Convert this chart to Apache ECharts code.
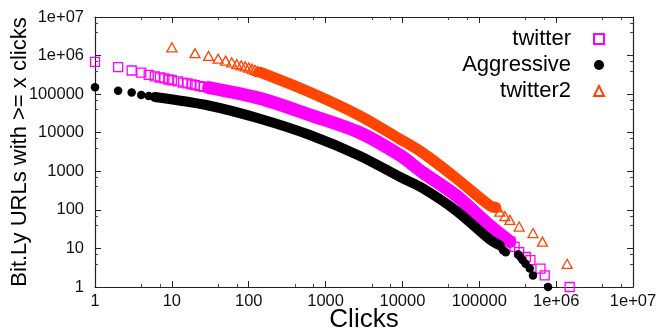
<!DOCTYPE html>
<html>
<head>
<meta charset="utf-8">
<script src="https://cdn.jsdelivr.net/npm/echarts@6/dist/echarts.min.js"></script>
<style>
  html, body { margin: 0; padding: 0; background: #fff; }
  #chart { width: 661px; height: 329px; }
</style>
</head>
<body>
<div id="chart"></div>
<script>
// values (log-log CCDF of clicks)
const twitterX = [1, 2, 3, 4, 5, 6, 7, 8, 9, 10, 12, 14, 16, 18, 20, 23, 26, 30];
const twitterY = [690000, 500000, 410000, 360000, 316000, 290000, 270000, 257000, 240000, 229000, 214000, 200000, 190000, 180000, 172000, 162000, 155000, 148000];
const twitterBandX = [30, 140, 625, 2800, 9200, 18400, 50000, 137000, 250000];
const twitterBandY = [148000, 77600, 28800, 10000, 2630, 930, 234, 39, 15];
const twitterTailX = [190000, 220000, 254000, 288000, 330000, 403000, 463000, 625000, 711000, 1500000];
const twitterTailY = [20, 17, 15, 11, 8, 6, 5, 3, 2, 1];

const aggrX = [1, 2, 3, 4, 5, 6];
const aggrY = [150000, 123000, 110000, 95000, 89000, 84000];
const aggrBandX = [6, 31, 140, 625, 2800, 9200, 18400, 50000, 137000, 185000];
const aggrBandY = [84000, 50000, 23000, 8700, 2500, 720, 363, 95, 17, 12];
const aggrTailX = [204000, 221000, 320000, 343000, 365000, 400000, 454000, 500000, 785000];
const aggrTailY = [9, 8, 7, 6, 5, 4, 3, 2, 1];

const twitter2X = [10, 20, 30, 40, 50, 60, 70, 80, 90, 100, 110, 120, 130, 140];
const twitter2Y = [1640000, 1150000, 980000, 830000, 740000, 670000, 600000, 560000, 525000, 490000, 457000, 427000, 398000, 371000];
const twitter2BandX = [140, 625, 2800, 9200, 18400, 50000, 137000, 164000];
const twitter2BandY = [371000, 112000, 27500, 6900, 3000, 660, 129, 116];
const twitter2TailX = [164000, 185000, 215000, 250000, 330000, 500000, 663000, 1390000];
const twitter2TailY = [116, 90, 69, 55, 37, 25, 15, 4];

const font = '"Liberation Sans", Arial, sans-serif';
const pink = '#ff00ff';
const orange = '#ff4500';

const zip = (xs, ys) => xs.map((x, i) => [x, ys[i]]);
const tickLabel = (v) =>
  v >= 1e6 ? '1e+0' + Math.round(Math.log10(v)) : String(Math.round(v));

const chart = echarts.init(document.getElementById('chart'));

function logAxis(extra) {
  return {
    type: 'log',
    logBase: 10,
    min: 1,
    max: 1e7,
    splitNumber: 7,
    nameMoveOverlap: false,
    axisLine: { show: true, onZero: false, lineStyle: { color: '#222', width: 1.2 } },
    axisTick: { show: true, inside: true, length: 6, lineStyle: { color: '#222' } },
    minorTick: { show: true, splitNumber: 3, length: 3, lineStyle: { color: '#444' } },
    splitLine: { show: false },
    ...extra,
  };
}

const labelStyle = { fontFamily: font, fontSize: 16.5, color: '#111', formatter: tickLabel };

function band(name, xs, ys, color, width) {
  return {
    name,
    type: 'line',
    data: zip(xs, ys),
    symbol: 'none',
    smooth: 0.3,
    silent: true,
    lineStyle: { color, width, cap: 'round' },
  };
}

const openSquare = { color: 'rgba(255,255,255,0)', borderColor: pink, borderWidth: 1.3, opacity: 1 };
const openTriangle = { color: 'rgba(255,255,255,0)', borderColor: orange, borderWidth: 1.3, opacity: 1 };

chart.setOption({
  animation: false,
  grid: { left: 95, right: 28, top: 17, bottom: 42, containLabel: false, outerBoundsMode: 'none' },
  xAxis: [
    logAxis({
      position: 'bottom',
      axisLabel: { ...labelStyle, margin: 6 },
      name: 'Clicks',
      nameLocation: 'middle',
      nameGap: 20,
      nameTextStyle: { fontFamily: font, fontSize: 26, color: '#000' },
    }),
    logAxis({ position: 'top', axisLabel: { show: false } }),
  ],
  yAxis: [
    logAxis({
      position: 'left',
      axisLabel: { ...labelStyle, margin: 11 },
      name: 'Bit.Ly URLs with >= x clicks',
      nameLocation: 'middle',
      nameRotate: 90,
      nameGap: 64,
      nameTextStyle: { fontFamily: font, fontSize: 22, color: '#000' },
    }),
    logAxis({ position: 'right', axisLabel: { show: false } }),
  ],
  legend: {
    data: ['twitter', 'Aggressive', 'twitter2'],
    orient: 'vertical',
    right: 51,
    top: 23,
    align: 'right',
    itemWidth: 10,
    itemHeight: 10,
    itemGap: 4,
    selectedMode: false,
    textStyle: { fontFamily: font, fontSize: 22, color: '#000', padding: [0, 18, 0, 0] },
  },
  series: [
    band('twitter band', twitterBandX, twitterBandY, pink, 13),
    {
      name: 'twitter',
      type: 'scatter',
      symbol: 'rect',
      symbolSize: 9,
      itemStyle: openSquare,
      data: zip(twitterX, twitterY).concat(zip(twitterTailX, twitterTailY)),
    },
    band('Aggressive band', aggrBandX, aggrBandY, '#000', 10),
    {
      name: 'Aggressive',
      type: 'scatter',
      symbol: 'circle',
      symbolSize: 8.5,
      itemStyle: { color: '#000', opacity: 1 },
      data: zip(aggrX, aggrY).concat(zip(aggrTailX, aggrTailY)),
    },
    band('twitter2 band', twitter2BandX, twitter2BandY, orange, 11),
    {
      name: 'twitter2',
      type: 'scatter',
      symbol: 'triangle',
      symbolSize: [10, 9],
      itemStyle: openTriangle,
      data: zip(twitter2X, twitter2Y).concat(zip(twitter2TailX, twitter2TailY)),
    },
  ],
});
</script>
</body>
</html>
